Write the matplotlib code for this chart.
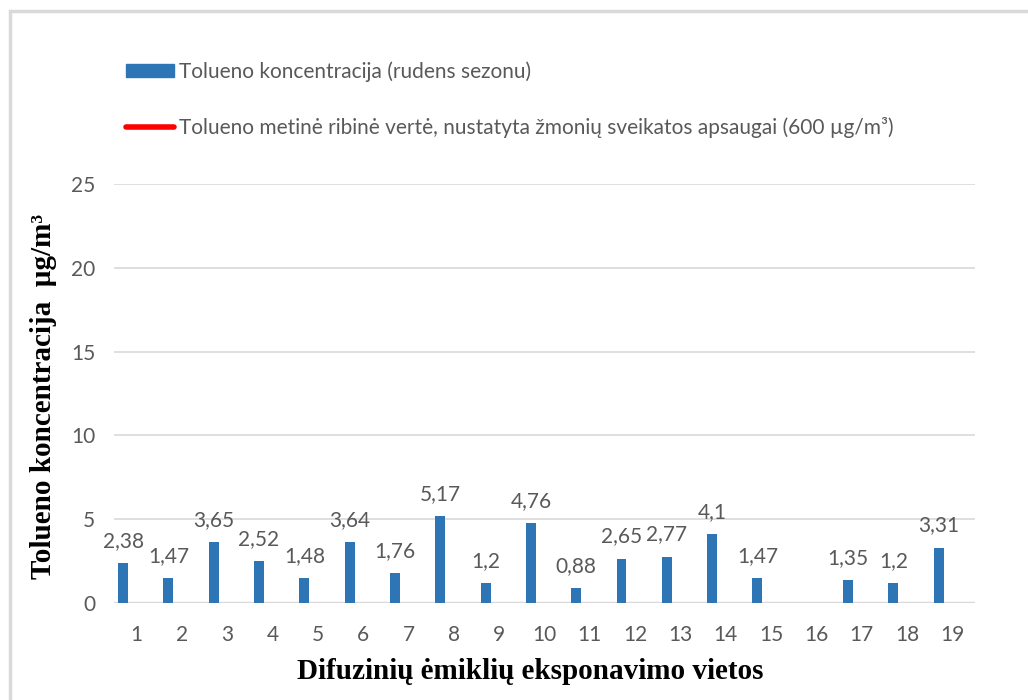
import matplotlib
matplotlib.use('Agg')
import matplotlib.pyplot as plt
import numpy as np
from matplotlib.patches import Patch, Rectangle
from matplotlib.lines import Line2D

# duomenys
vietos = [str(i) for i in range(1, 20)]
koncentracija = [2.38, 1.47, 3.65, 2.52, 1.48, 3.64, 1.76, 5.17, 1.2, 4.76,
                 0.88, 2.65, 2.77, 4.1, 1.47, None, 1.35, 1.2, 3.31]
riba = 600  # ug/m3, metine ribine verte

GRAY_TXT = '#595959'
BLUE = '#2E75B6'

plt.rcParams['font.family'] = ['Lato', 'DejaVu Sans']

fig = plt.figure(figsize=(10.28, 7.0), dpi=100)
ax = fig.add_axes([0.1109, 0.1386, 0.8375, 0.5985])

x = np.arange(len(vietos))
vals = [v if v is not None else 0 for v in koncentracija]
bars = ax.bar(x - 0.30, vals, width=0.22, color=BLUE, zorder=3)
ax.plot(x, [riba] * len(x), color='red', lw=3, zorder=3)  # uz grafiko ribu

# reiksmiu etiketes
for xi, v in zip(x, koncentracija):
    if v is None:
        continue
    ax.annotate(('%g' % v).replace('.', ','), (xi - 0.30, v), xytext=(0, 22),
                textcoords='offset pixels', ha='center', va='center',
                fontsize=15, color=GRAY_TXT, zorder=4)

ax.set_xlim(-0.5, len(vietos) - 0.5)
ax.set_ylim(0, 25)
ax.set_yticks([0, 5, 10, 15, 20, 25])
ax.set_xticks(x)
ax.set_xticklabels(vietos)
ax.yaxis.grid(True, color='#D9D9D9', lw=1.2, zorder=0)
ax.axhline(0, color='#D9D9D9', lw=2.5, zorder=1)
for s in ax.spines.values():
    s.set_visible(False)
ax.tick_params(axis='both', length=0, labelsize=15, colors=GRAY_TXT)
ax.tick_params(axis='x', pad=16)
ax.tick_params(axis='y', pad=13.5)

ax.set_xlabel('Difuzinių ėmiklių eksponavimo vietos', family='Liberation Serif',
              fontweight='bold', fontsize=21, color='black')
ax.set_ylabel('Tolueno koncentracija  µg/m³', family='Liberation Serif',
              fontweight='bold', fontsize=21, color='black')
ax.xaxis.set_label_coords(0.483, -0.132)
ax.yaxis.set_label_coords(-0.066, 0.492)

# legenda
handles = [Patch(color=BLUE), Line2D([0], [0], color='red', lw=4, solid_capstyle='round')]
labels = ['Tolueno koncentracija (rudens sezonu)',
          'Tolueno metinė ribinė vertė, nustatyta žmonių sveikatos apsaugai (600 µg/m³)']
leg = fig.legend(handles, labels, loc='upper left', bbox_to_anchor=(0.1048, 0.939),
                 frameon=False, fontsize=15, labelspacing=1.66, handlelength=2.26,
                 handleheight=0.6, handletextpad=0.25, labelcolor=GRAY_TXT)

# remelis
fig.add_artist(Rectangle((10 / 1028, -0.1), 1.2, 1.1 - 11 / 700,
                         transform=fig.transFigure, fill=False,
                         edgecolor='#D9D9D9', lw=2.5))

fig.savefig('out.png', dpi=100)
